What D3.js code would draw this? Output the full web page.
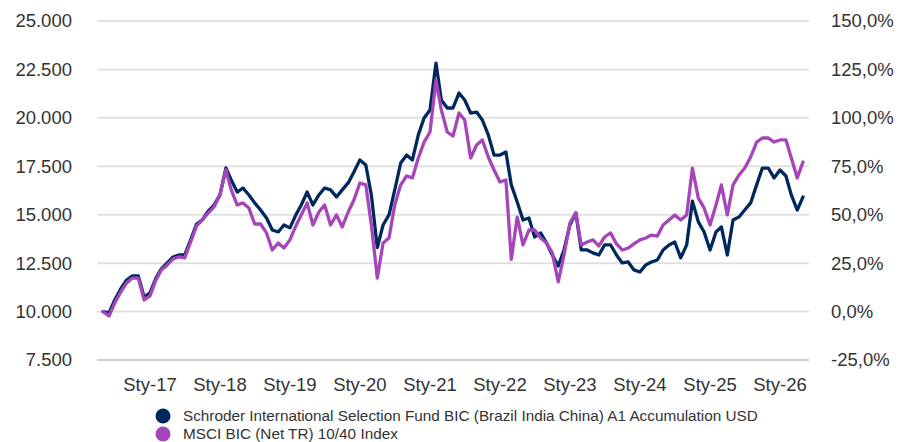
<!DOCTYPE html>
<html><head><meta charset="utf-8">
<script src="https://cdn.jsdelivr.net/npm/d3@7"></script>
<style>body{margin:0;background:#fff} svg{display:block}</style>
</head><body><svg id="c" width="898" height="442"></svg>
<script>
// ---- data (monthly, starting May 2016; fund value of 10 000 invested) ----
const startMonth = new Date(2016, 4, 1);
const fundValues = [
10000,9930,10600,11170,11630,11840,11840,10750,
10960,11730,12200,12510,12820,12920,12920,13700,14520,14730,15190,15500,
16020,17410,16790,16170,16380,16020,15610,15240,14830,14210,14110,14470,
14320,14990,15500,16170,15500,16020,16380,16280,15920,16280,16640,17210,
17830,17570,16020,13300,14470,14990,16280,17670,18080,17830,19120,19990,
20410,22830,20920,20510,20510,21280,20920,20250,20300,19890,19120,18080,
18080,18240,16540,15660,14730,14830,13850,14060,13540,12920,12350,13180,
14470,15090,13180,13180,13030,12920,13440,13440,12920,12510,12560,12150,
12040,12410,12560,12660,13180,13440,13590,12770,13440,15700,14630,14110,
13180,14110,14370,12920,14730,14880,15240,15610,16540,17410,17410,16900,
17310,17000,16020,15240,15920];
const indexValues = [
10000,9770,10440,11010,11480,11730,11730,10600,
10810,11630,12150,12410,12720,12820,12770,13590,14420,14730,15090,15400,
16020,17310,16280,15500,15610,15350,14520,14520,14060,13180,13540,13280,
13700,14420,14990,15610,14470,15140,15500,14470,14990,14370,15140,15760,
16640,16540,14470,11730,13540,13800,15500,16540,17000,16900,17930,18750,
19270,21950,20410,19270,19060,20250,19890,17930,18600,18860,17980,17310,
16690,16790,12700,14880,13440,14210,14210,13800,13540,13030,11530,12920,
14570,15100,13440,13590,13700,13390,13850,14060,13490,13180,13280,13490,
13700,13800,13950,13900,14470,14730,14990,14730,14990,17400,15860,15350,
14470,15500,16540,14990,16540,17050,17410,17980,18750,18960,18960,18750,
18860,18860,17930,16900,17720];
const leftTicks = [7500,10000,12500,15000,17500,20000,22500,25000];
const rightTicks = [-25,0,25,50,75,100,125,150];
const xTickYears = [2017,2018,2019,2020,2021,2022,2023,2024,2025,2026];
const xTickLabels = ["Sty-17","Sty-18","Sty-19","Sty-20","Sty-21","Sty-22","Sty-23","Sty-24","Sty-25","Sty-26"];
const seriesNames = ["Schroder International Selection Fund BIC (Brazil India China) A1 Accumulation USD","MSCI BIC (Net TR) 10/40 Index"];
const seriesColors = ["#00285e","#a545b9"];

const dates = fundValues.map((_, i) => d3.timeMonth.offset(startMonth, i));
const series = [fundValues, indexValues].map((vals, k) => ({
  name: seriesNames[k], color: seriesColors[k],
  points: vals.map((v, i) => ({date: dates[i], value: v}))
}));

const loc = d3.formatLocale({decimal: ",", thousands: ".", grouping: [3], currency: ["", ""], minus: "-"});
const fmtL = loc.format(",.0f");
const fmtR = loc.format(".1f");

const svg = d3.select("#c");
const x = d3.scaleTime().domain([new Date(2017,0,1), new Date(2026,0,1)]).range([150, 780]);
const yL = d3.scaleLinear().domain([7500, 25000]).range([360, 21]);
const yR = d3.scaleLinear().domain([-25, 150]).range([360, 21]);
const gx0 = x(new Date(2016,3,1)), gx1 = x(new Date(2026,5,1));

const font = "'Liberation Sans', Arial, sans-serif";

// grid
svg.append("g").selectAll("line").data(leftTicks).join("line")
  .attr("x1", gx0).attr("x2", gx1)
  .attr("y1", d => yL(d)).attr("y2", d => yL(d))
  .attr("stroke", (d,i) => i === 0 ? "#cfcfcf" : "#e1e1e1").attr("stroke-width", 2);

// left axis labels
svg.append("g").selectAll("text").data(leftTicks).join("text")
  .attr("x", 72).attr("y", d => yL(d)).attr("dy", "0.35em")
  .attr("text-anchor", "end").attr("font-family", font).attr("font-size", 18.5)
  .attr("fill", "#333").text(d => fmtL(d));

// right axis labels
svg.append("g").selectAll("text").data(rightTicks).join("text")
  .attr("x", 831).attr("y", d => yR(d)).attr("dy", "0.35em")
  .attr("text-anchor", "start").attr("font-family", font).attr("font-size", 18.5)
  .attr("fill", "#333").text(d => fmtR(d) + "%");

// x labels
svg.append("g").selectAll("text").data(xTickYears).join("text")
  .attr("x", d => x(new Date(d,0,1))).attr("y", 385).attr("dy", "0.35em")
  .attr("text-anchor", "middle").attr("font-family", font).attr("font-size", 18.5)
  .attr("fill", "#333").text((d,i) => xTickLabels[i]);

// lines
const line = d3.line().x(d => x(d.date)).y(d => yL(d.value)).curve(d3.curveLinear);
svg.append("g").selectAll("path").data(series).join("path")
  .attr("d", d => line(d.points)).attr("fill", "none")
  .attr("stroke", d => d.color).attr("stroke-width", 3.3)
  .attr("stroke-linejoin", "round").attr("stroke-linecap", "round");

// legend
const lg = svg.append("g").selectAll("g").data(series).join("g")
  .attr("transform", (d,i) => `translate(163,${416 + i*18})`);
lg.append("circle").attr("r", 7.5).attr("fill", d => d.color);
lg.append("text").attr("x", 20).attr("dy", "0.35em")
  .attr("font-family", "'Liberation Sans Narrow', 'Arial Narrow', sans-serif")
  .attr("font-size", 15.3).attr("fill", "#333").text(d => d.name);
</script>
</body></html>
